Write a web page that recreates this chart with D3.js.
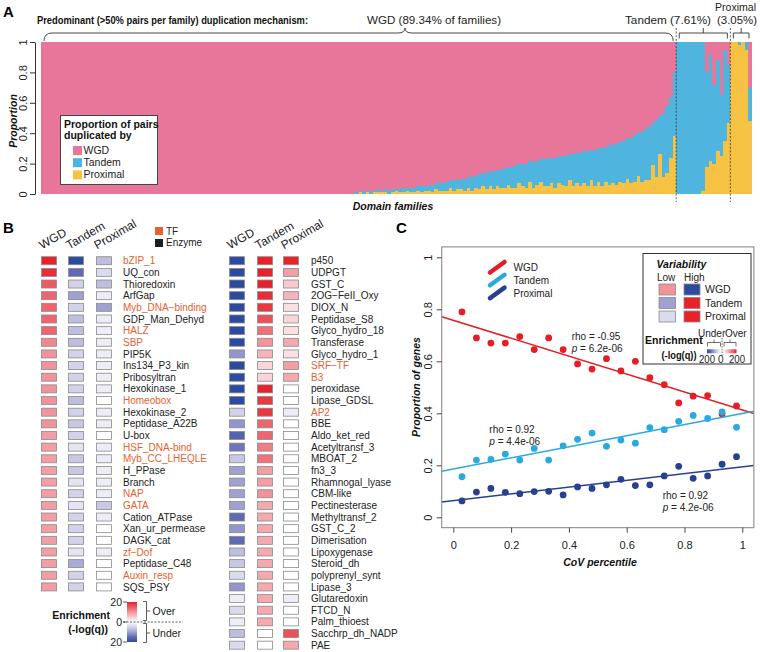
<!DOCTYPE html>
<html><head><meta charset="utf-8">
<script src="https://cdn.jsdelivr.net/npm/d3@7"></script>
<style>body{margin:0;background:#fff} svg{display:block;font-family:"Liberation Sans",Arial,Helvetica,sans-serif}</style>
</head><body><svg id="c" width="760" height="652"></svg>
<script>
// ---------------- DATA ----------------
// Panel A: proportion (%) of duplicated pairs per domain family (sampled bars, sorted as in figure)
const famWGD = [
100,100,100,100,100,100,100,100,100,100,
100,100,100,100,100,100,100,100,100,100,
100,100,100,100,100,100,100,100,100,100,
100,100,100,100,100,100,100,100,100,100,
100,100,100,100,100,100,100,100,100,100,
100,100,100,100,100,100,100,100,100,100,
100,100,100,100,100,100,100,100,100,100,
100,100,100,100,100,100,100,100,100,100,
100,100,100,100,100,100,100,
99,98,99,98,98,98,97,98,97,98,
97,97,97,96,96,96,96,95,95,95,
94,95,93,93,93,92,91,91,91,90,
90,89,89,88,87,86,86,85,85,84,
84,83,82,82,81,80,80,80,78,79,
78,77,77,76,76,76,75,75,75,74,
74,73,73,72,72,71,71,70,70,69,
68,68,67,66,65,63,63,61,59,59,
57,56,53,51,49,47,42,36,20,
0,0,0,0,0,0,0,0,20,8,28,12,35,5,15,
0,0,0,0,0,30];
const famTandem = [
0,0,0,0,0,0,0,0,0,0,
0,0,0,0,0,0,0,0,0,0,
0,0,0,0,0,0,0,0,0,0,
0,0,0,0,0,0,0,0,0,0,
0,0,0,0,0,0,0,0,0,0,
0,0,0,0,0,0,0,0,0,0,
0,0,0,0,0,0,0,0,0,0,
0,0,0,0,0,0,0,0,0,0,
0,0,0,0,0,0,0,
1,1,1,1,2,1,2,1,2,2,
2,1,2,3,2,3,3,3,4,3,
4,4,4,5,5,6,5,7,6,7,
8,7,9,8,10,9,11,10,12,11,
12,13,12,14,15,13,15,16,14,17,
16,15,18,19,17,20,18,19,20,17,
21,20,22,21,23,20,24,22,25,23,
26,25,27,26,28,27,30,31,29,33,
34,35,28,38,25,42,44,40,42,
100,100,100,100,100,100,100,98,62,70,52,60,40,60,38,
0,0,2,0,5,22];
const famProximal = [
0,0,0,0,0,0,0,0,0,0,
0,0,0,0,0,0,0,0,0,0,
0,0,0,0,0,0,0,0,0,0,
0,0,0,0,0,0,0,0,0,0,
0,0,0,0,0,0,0,0,0,0,
0,0,0,0,0,0,0,0,0,0,
0,0,0,0,0,0,0,0,0,0,
0,0,0,0,0,0,0,0,0,0,
0,0,0,0,0,0,0,
0,1,0,1,0,1,1,1,1,0,
1,2,1,1,2,1,1,2,1,2,
2,1,3,2,2,2,4,2,3,3,
2,4,2,4,3,5,3,5,3,5,
4,4,6,4,4,7,5,4,8,4,
6,8,5,5,7,4,7,6,5,9,
5,7,5,7,5,9,5,8,5,8,
6,7,6,8,7,10,7,8,12,8,
9,9,19,11,26,11,14,24,38,
0,0,0,0,0,0,0,2,18,22,20,28,25,35,47,
100,100,98,100,95,48];
const groupNames = ["WGD","Tandem","Proximal"];
const groupBars  = [176,15,6];
const groupLabels = ["WGD (89.34% of families)","Tandem (7.61%)","(3.05%)"];
const yTicksA = [0,0.2,0.4,0.6,0.8,1];
const yTickLabelsA = ["0","0.2","0.4","0.6","0.8","1"];

// Panel B: enrichment (-log(q)), positive = over, negative = under
const leftFam = ["bZIP_1","UQ_con","Thioredoxin","ArfGap","Myb_DNA\u2212binding","GDP_Man_Dehyd","HALZ","SBP","PIP5K","Ins134_P3_kin","Pribosyltran","Hexokinase_1","Homeobox","Hexokinase_2","Peptidase_A22B","U-box","HSF_DNA-bind","Myb_CC_LHEQLE","H_PPase","Branch","NAP","GATA","Cation_ATPase","Xan_ur_permease","DAGK_cat","zf\u2212Dof","Peptidase_C48","Auxin_resp","SQS_PSY"];
const leftWGD  = [20,19,15,14,14,14,14,11,10,10,10,10,10,10,10,9,9,9,9,9,9,9,9,9,9,9,9,9,9];
const leftTan  = [-20,-15,-5,-10,-5,-7,-7,-7,-5,-5,-5,-5,-7,-5,-6,-5,-3,-6,-6,-3,-5,-3,-5,-5,-5,-3,-9,-5,-5];
const leftProx = [-7,-4,-7,-2,-10,-2,-2,-2,-2,-2,-2,-2,0,-2,-2,0,-2,-2,-2,-2,-2,-6,-2,0,0,-2,0,0,0];
const rightFam = ["p450","UDPGT","GST_C","2OG\u2212FeII_Oxy","DIOX_N","Peptidase_S8","Glyco_hydro_18","Transferase","Glyco_hydro_1","SRF\u2212TF","B3","peroxidase","Lipase_GDSL","AP2","BBE","Aldo_ket_red","Acetyltransf_3","MBOAT_2","fn3_3","Rhamnogal_lyase","CBM-like","Pectinesterase","Methyltransf_2","GST_C_2","Dimerisation","Lipoxygenase","Steroid_dh","polyprenyl_synt","Lipase_3","Glutaredoxin","FTCD_N","Palm_thioest","Sacchrp_dh_NADP","PAE"];
const rightWGD  = [-20,-20,-20,-20,-20,-20,-20,-20,-11,-20,-20,-20,-20,-5,-11,-16,-14,-6,-10,-10,-10,-10,-15,-11,-15,-7,-6,-4,-11,-2,-4,-2,-7,-4];
const rightTan  = [20,20,20,19,18,16,13,10,7,4,4,20,18,18,14,14,12,13,9,9,10,8,8,8,8,8,8,8,8,8,8,8,0,0];
const rightProx = [20,9,5,7,3,4,3,8,3,9,8,0,0,-2,0,0,0,0,0,0,0,0,0,0,0,0,0,0,0,-2,0,0,16,8];
const tfFamilies = ["bZIP_1","Myb_DNA\u2212binding","HALZ","SBP","Homeobox","HSF_DNA-bind","Myb_CC_LHEQLE","NAP","GATA","zf\u2212Dof","Auxin_resp","SRF\u2212TF","B3","AP2"];
const mechCols = ["WGD","Tandem","Proximal"];

// Panel C
const covPct = [0.03,0.08,0.13,0.18,0.23,0.28,0.33,0.38,0.43,0.48,0.53,0.58,0.63,0.68,0.73,0.78,0.83,0.88,0.93,0.98];
const propWGD = [0.79,0.69,0.67,0.67,0.695,0.645,0.69,0.645,0.59,0.57,0.61,0.563,0.60,0.537,0.51,0.44,0.466,0.468,0.397,0.428];
const propTandem = [0.156,0.22,0.223,0.243,0.22,0.265,0.22,0.275,0.30,0.324,0.273,0.297,0.285,0.345,0.337,0.369,0.392,0.38,0.405,0.346];
const propProximal = [0.063,0.097,0.111,0.096,0.091,0.099,0.10,0.086,0.117,0.111,0.125,0.146,0.122,0.125,0.159,0.196,0.15,0.159,0.204,0.233];
const rhoText = ["rho = -0.95","rho = 0.92","rho = 0.92"];
const pText = ["6.2e-06","4.4e-06","4.2e-06"];
const ticksC = [0,0.2,0.4,0.6,0.8,1];
const tickLabelsC = ["0","0.2","0.4","0.6","0.8","1"];

// ---------------- DRAW ----------------
const svg = d3.select("#c");
const TXT = "#222";
const colA = {WGD:"#E8769B", Tandem:"#4FB4DE", Proximal:"#F6C243"};

function label(x,y,t,o={}){
  const e = svg.append("text").attr("x",x).attr("y",y).text(t)
    .attr("font-size",o.size||10).attr("fill",o.fill||TXT);
  if(o.weight) e.attr("font-weight",o.weight);
  if(o.style) e.attr("font-style",o.style);
  if(o.anchor) e.attr("text-anchor",o.anchor);
  if(o.rotate!==undefined) e.attr("transform",`rotate(${o.rotate},${x},${y})`);
  if(o.len) e.attr("textLength",o.len).attr("lengthAdjust","spacingAndGlyphs");
  return e;
}

// Panel letters
label(3,17,"A",{size:15,weight:"bold",fill:"#000"});
label(3,233,"B",{size:15,weight:"bold",fill:"#000"});
label(396,233,"C",{size:15,weight:"bold",fill:"#000"});

// ---- Panel A ----
const xA = d3.scaleBand().domain(d3.range(famWGD.length)).range([41,752]).padding(0);
const yA = d3.scaleLinear().domain([0,1]).range([194,42]);
const tableA = famWGD.map((w,i)=>({i, WGD:w/100, Tandem:famTandem[i]/100, Proximal:famProximal[i]/100}));
const stackA = d3.stack().keys(["Proximal","Tandem","WGD"])(tableA);
const gA = svg.append("g").attr("shape-rendering","crispEdges");
const rx = i => Math.round(xA(i));
const rxe = i => Math.round(xA(i)+xA.bandwidth());
gA.selectAll("g").data(stackA).join("g").attr("fill",d=>colA[d.key])
  .selectAll("rect").data(d=>d).join("rect")
  .attr("x",d=>rx(d.data.i)).attr("width",d=>rxe(d.data.i)-rx(d.data.i))
  .attr("y",d=>Math.round(yA(d[1]))).attr("height",d=>Math.max(0,Math.round(yA(d[0]))-Math.round(yA(d[1]))));

const axA = svg.append("g").attr("transform","translate(35,0)")
  .call(d3.axisLeft(yA).tickValues(yTicksA).tickFormat((d,i)=>yTickLabelsA[i]).tickSize(5).tickSizeOuter(0));
axA.selectAll("text").attr("x",0).attr("dy",0).attr("text-anchor","middle")
  .attr("transform","translate(-8,0) rotate(-90)").attr("font-size",11).attr("fill",TXT)
  .attr("font-family",null);
axA.selectAll("line,path").attr("stroke","#333");
label(17,121,"Proportion",{size:10.5,weight:"bold",style:"italic",anchor:"middle",rotate:-90,fill:"#111"});
label(393,210,"Domain families",{size:10.5,weight:"bold",style:"italic",anchor:"middle",fill:"#111"});

// group boundaries, braces, labels
let starts=[0]; groupBars.forEach((n,k)=>starts.push(starts[k]+n));
const bw = xA.bandwidth();
[starts[1],starts[2]].forEach(s=>{
  svg.append("line").attr("x1",xA(s)).attr("x2",xA(s)).attr("y1",28).attr("y2",202)
    .attr("stroke","#333").attr("stroke-width",0.8).attr("stroke-dasharray","2,1.6");
});
groupNames.forEach((g,k)=>{
  const x0 = xA(starts[k])+3, x1 = Math.min(752, xA(starts[k+1]-1)+bw-3);
  let tip;
  if(k===0){
    tip = 405;
    svg.append("path").attr("fill","none").attr("stroke","#333").attr("stroke-width",0.9)
      .attr("d",`M${x0},41 Q${x0},33 ${x0+8},33 L${tip-7},33 Q${tip},33 ${tip},28 Q${tip},33 ${tip+7},33 L${x1-8},33 Q${x1},33 ${x1},41`);
  } else {
    tip = (x0+x1)/2;
    svg.append("path").attr("fill","none").attr("stroke","#333").attr("stroke-width",0.9)
      .attr("d",`M${x0},38.5 L${x0},33 L${x1},33 L${x1},38.5 M${tip},33 L${tip},28`);
  }
});
label(37,23.5,"Predominant (>50% pairs per family) duplication mechanism:",{size:11,weight:"bold",len:271,fill:"#111"});
label(367,23.5,groupLabels[0],{size:11.5,len:134});
label(625,23.5,groupLabels[1],{size:11.5,len:86});
label(717,23.5,groupLabels[2],{size:11.5,len:40});
label(715,10.5,"Proximal",{size:11.5,len:41});

// legend A
svg.append("rect").attr("x",60.5).attr("y",115.5).attr("width",97).attr("height",69)
  .attr("fill","#fff").attr("stroke","#444").attr("stroke-width",1);
label(64,128,"Proportion of pairs",{size:10.5,weight:"bold",fill:"#111"});
label(64,138.5,"duplicated by",{size:10.5,weight:"bold",fill:"#111"});
groupNames.forEach((g,k)=>{
  svg.append("rect").attr("x",73).attr("y",146+k*12.2).attr("width",9).attr("height",9).attr("fill",colA[g]);
  label(83.5,154+k*12.2,g,{size:10.5});
});

// ---- Panel B ----
const redRamp = d3.scaleLinear().domain([0,0.5,1]).range(["#FFFFFF","#F2939B","#E8212A"]).clamp(true);
const blueRamp = d3.scaleLinear().domain([0,0.25,0.5,0.75,1]).range(["#FFFFFF","#D2D2EA","#A0A1D1","#6169B5","#2C4A9F"]).clamp(true);
const cellColor = v => v>=0 ? redRamp(v/20) : blueRamp(-v/20);
const TFCOL = "#E4622F";
const yRow = d3.scaleBand().domain(d3.range(34)).range([254.9,254.9+34*11.65]);
const cellH = 8, cellW = 15;

function heat(fams, cols, xCols, xLab){
  fams.forEach((f,r)=>{
    const yc = yRow(r)+yRow.bandwidth()/2;
    cols.forEach((arr,c)=>{
      svg.append("rect").attr("x",xCols[c]+0.5).attr("y",yc-cellH/2).attr("width",cellW).attr("height",cellH)
        .attr("fill",cellColor(arr[r])).attr("stroke","#8a8a8a").attr("stroke-width",0.8);
    });
    label(xLab,yc+3.6,f,{size:10,fill:tfFamilies.includes(f)?TFCOL:TXT});
  });
  mechCols.forEach((m,c)=>{
    label(xCols[c]+1,249.5,m,{size:12,rotate:-30});
  });
}
heat(leftFam,[leftWGD,leftTan,leftProx],[41,68,96],123);
heat(rightFam,[rightWGD,rightTan,rightProx],[229,257,283],311);

// TF / Enzyme legend
svg.append("rect").attr("x",155).attr("y",227).attr("width",8).attr("height",8).attr("fill",TFCOL);
svg.append("rect").attr("x",155).attr("y",239).attr("width",8).attr("height",8).attr("fill","#1e1e1e");
label(166,234.5,"TF",{size:10});
label(166,246,"Enzyme",{size:10});

// Enrichment colourbar B
const defs = svg.append("defs");
const gB = defs.append("linearGradient").attr("id","gB").attr("x1",0).attr("y1",0).attr("x2",0).attr("y2",1);
d3.range(0,41).forEach(k=>gB.append("stop").attr("offset",k/40).attr("stop-color",cellColor(20-k)));
svg.append("rect").attr("x",127).attr("y",602).attr("width",10).attr("height",40).attr("fill","url(#gB)");
const yCB = d3.scaleLinear().domain([20,-20]).range([602,642]);
[[20,"20"],[0,"0"],[-20,"20"]].forEach(([v,t])=>{
  svg.append("line").attr("x1",123).attr("x2",127).attr("y1",yCB(v)).attr("y2",yCB(v)).attr("stroke","#333").attr("stroke-width",0.8);
  label(122,yCB(v)+3.8,t,{size:10.5,anchor:"end"});
});
svg.append("line").attr("x1",123).attr("x2",183).attr("y1",622).attr("y2",622).attr("stroke","#333").attr("stroke-width",0.8).attr("stroke-dasharray","2,1.5");
[[601.5,620.5,"Over"],[623.5,642.5,"Under"]].forEach(([a,b,t])=>{
  svg.append("path").attr("fill","none").attr("stroke","#333").attr("stroke-width",0.8)
    .attr("d",`M143,${a} L146.5,${a} L146.5,${b} L143,${b} M146.5,${(a+b)/2} L150,${(a+b)/2}`);
  label(152.5,(a+b)/2+3.8,t,{size:10.5});
});
label(110,619,"Enrichment",{size:10.5,weight:"bold",anchor:"end",fill:"#111"});
label(108,633,"(-log(q))",{size:10.5,weight:"bold",anchor:"end",fill:"#111"});

// ---- Panel C ----
const xC = d3.scaleLinear().domain([0,1]).range([453.3,742.3]);
const yC = d3.scaleLinear().domain([0,1]).range([517.3,257.3]);
const bx0 = xC(-0.04), bx1 = xC(1.04), by0 = yC(-0.04), by1 = yC(1.04);
const colC = {WGD:"#E41E26", Tandem:"#2AA9E0", Proximal:"#27418F"};
const seriesC = [["WGD",propWGD],["Tandem",propTandem],["Proximal",propProximal]];
defs.append("clipPath").attr("id","clipC").append("rect").attr("x",bx0).attr("y",by1).attr("width",bx1-bx0).attr("height",by0-by1);
const gC = svg.append("g").attr("clip-path","url(#clipC)");
seriesC.forEach(([k,arr])=>{
  gC.append("g").selectAll("circle").data(arr).join("circle")
    .attr("cx",(d,i)=>xC(covPct[i])).attr("cy",d=>yC(d)).attr("r",3.4).attr("fill",colC[k]);
});
seriesC.forEach(([k,arr])=>{
  const mx = d3.mean(covPct), my = d3.mean(arr);
  const sxy = d3.sum(covPct,(x,i)=>(x-mx)*(arr[i]-my)), sxx = d3.sum(covPct,x=>(x-mx)*(x-mx));
  const b = sxy/sxx, a = my-b*mx;
  gC.append("line").attr("x1",bx0).attr("x2",bx1).attr("y1",yC(a+b*-0.04)).attr("y2",yC(a+b*1.04))
    .attr("stroke",colC[k]).attr("stroke-width",1.5);
});
svg.append("rect").attr("x",bx0).attr("y",by1).attr("width",bx1-bx0).attr("height",by0-by1)
  .attr("fill","none").attr("stroke","#808080").attr("stroke-width",1);
const axCL = svg.append("g").attr("transform",`translate(${bx0},0)`)
  .call(d3.axisLeft(yC).tickValues(ticksC).tickFormat((d,i)=>tickLabelsC[i]).tickSize(5).tickSizeOuter(0));
axCL.selectAll("text").attr("x",0).attr("dy",0).attr("text-anchor","middle")
  .attr("transform","translate(-10,0) rotate(-90)").attr("font-size",11).attr("fill",TXT).attr("font-family",null);
axCL.select("path").remove();
axCL.selectAll("line").attr("stroke","#444");
const axCB = svg.append("g").attr("transform",`translate(0,${by0})`)
  .call(d3.axisBottom(xC).tickValues(ticksC).tickFormat((d,i)=>tickLabelsC[i]).tickSize(5).tickSizeOuter(0).tickPadding(9));
axCB.selectAll("text").attr("font-size",11).attr("fill",TXT).attr("font-family",null);
axCB.select("path").remove();
axCB.selectAll("line").attr("stroke","#444");
label(600,566,"CoV percentile",{size:10.5,weight:"bold",style:"italic",anchor:"middle",fill:"#111"});
label(420,387,"Proportion of genes",{size:10.5,weight:"bold",style:"italic",anchor:"middle",rotate:-90,fill:"#111"});

// stats text
[[571.7,340],[489.3,432.5],[662.7,499]].forEach(([x,y],k)=>{
  label(x,y,rhoText[k],{size:10});
  const t = svg.append("text").attr("x",x).attr("y",y+12).attr("font-size",10).attr("fill",TXT);
  t.append("tspan").attr("font-style","italic").text("p");
  t.append("tspan").text(" = "+pText[k]);
});

// line legend
seriesC.forEach(([k],i)=>{
  const dy = i*12.8;
  svg.append("line").attr("x1",490).attr("y1",272.5+dy).attr("x2",504.5).attr("y2",262+dy)
    .attr("stroke",colC[k]).attr("stroke-width",4.5).attr("stroke-linecap","round");
  label(513.5,271+dy,k,{size:10});
});

// Variability legend
svg.append("rect").attr("x",643).attr("y",253.5).attr("width",108).attr("height",110.5)
  .attr("fill","#fff").attr("stroke","#333").attr("stroke-width",1);
label(656.5,268,"Variability",{size:10.5,weight:"bold",style:"italic",fill:"#111"});
label(657,280.5,"Low",{size:10});
label(684,280.5,"High",{size:10});
const lowVals  = [leftWGD[8], leftTan[3], leftProx[1]];
const highVals = [rightWGD[0], rightTan[0], rightProx[0]];
mechCols.forEach((m,k)=>{
  const y = 284+k*13.5;
  svg.append("rect").attr("x",659).attr("y",y).attr("width",16.5).attr("height",11).attr("fill",cellColor(lowVals[k])).attr("stroke","#8a8a8a").attr("stroke-width",0.8);
  svg.append("rect").attr("x",684).attr("y",y).attr("width",16).attr("height",11).attr("fill",cellColor(highVals[k])).attr("stroke","#8a8a8a").attr("stroke-width",0.8);
  label(705,y+9.3,m,{size:10.5});
});
label(645,344,"Enrichment",{size:10.5,weight:"bold",fill:"#111"});
label(661.5,358.5,"(-log(q))",{size:10.5,weight:"bold",fill:"#111",len:35});
const gBl = defs.append("linearGradient").attr("id","gBl");
d3.range(0,21).forEach(k=>gBl.append("stop").attr("offset",k/20).attr("stop-color",cellColor(-20+k)));
const gRd = defs.append("linearGradient").attr("id","gRd");
d3.range(0,21).forEach(k=>gRd.append("stop").attr("offset",k/20).attr("stop-color",cellColor(k)));
svg.append("rect").attr("x",707).attr("y",349.3).attr("width",14).attr("height",4).attr("fill","url(#gBl)");
svg.append("rect").attr("x",723).attr("y",349.3).attr("width",13.5).attr("height",4).attr("fill","url(#gRd)");
svg.append("line").attr("x1",722).attr("x2",722).attr("y1",338).attr("y2",356).attr("stroke","#333").attr("stroke-width",0.7).attr("stroke-dasharray","1.5,1.2");
label(698,336.5,"Under",{size:10});
label(725,336.5,"Over",{size:10});
[[707.5,720.5],[724,736]].forEach(([a,b])=>{
  svg.append("path").attr("fill","none").attr("stroke","#333").attr("stroke-width",0.7)
    .attr("d",`M${a},346.5 L${a},342.5 L${b},342.5 L${b},346.5 M${(a+b)/2},342.5 L${(a+b)/2},339.5`);
});
label(699,363.3,"200",{size:10,len:16});
label(718,363.3,"0",{size:10});
label(729,363.3,"200",{size:10,len:16});
</script></body></html>
